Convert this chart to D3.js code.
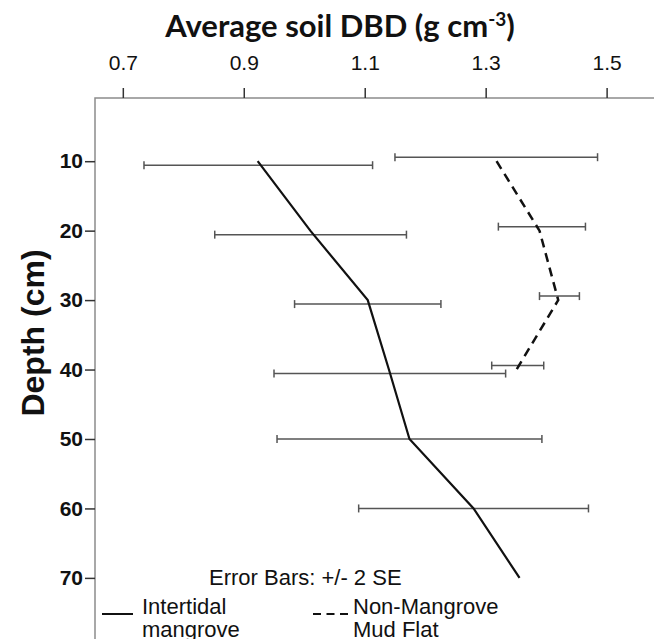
<!DOCTYPE html>
<html>
<head>
<meta charset="utf-8">
<script src="https://cdn.jsdelivr.net/npm/d3@7"></script>
<style>
  body { margin: 0; background: #fff; }
  svg { display: block; }
</style>
</head>
<body>
<div id="chart"></div>
<script>
// depth (cm) and mean soil DBD, with +/- 2 SE limits
const depths = [10, 20, 30, 40, 50, 60, 70];
const mangroveMean = [0.923, 1.01, 1.105, 1.14, 1.174, 1.28, 1.356];
const mangroveLow = [0.735, 0.852, 0.984, 0.950, 0.955, 1.090, null];
const mangroveHigh = [1.113, 1.169, 1.226, 1.333, 1.393, 1.470, null];

const mudDepths = [10, 20, 30, 40];
const mudMean = [1.318, 1.389, 1.42, 1.351];
const mudLow = [1.150, 1.321, 1.389, 1.310];
const mudHigh = [1.485, 1.465, 1.455, 1.396];

const xTicks = [0.7, 0.9, 1.1, 1.3, 1.5];
const yTicks = [10, 20, 30, 40, 50, 60, 70];

const width = 654, height = 639;
const plotLeft = 95, plotTop = 98;

const svg = d3.select("#chart")
    .append("svg")
    .attr("width", width)
    .attr("height", height);

const x = d3.scaleLinear()
    .domain([0.654, 1.58])
    .range([plotLeft, width + 1]);

const y = d3.scaleLinear()
    .domain([0.9, 78.8])
    .range([plotTop, height]);

// plot frame (right and bottom run off the picture)
svg.append("rect")
    .attr("x", plotLeft)
    .attr("y", plotTop)
    .attr("width", width)
    .attr("height", height)
    .attr("fill", "none")
    .attr("stroke", "#8c8c8c")
    .attr("stroke-width", 1.5);

// top axis
const xAxis = svg.append("g")
    .attr("transform", `translate(0,${plotTop})`)
    .call(d3.axisTop(x).tickValues(xTicks).tickSize(10).tickPadding(18).tickFormat(d3.format(".1f")));
xAxis.select(".domain").remove();
xAxis.selectAll("line").attr("stroke", "#333").attr("stroke-width", 1.5);
xAxis.selectAll("text")
    .attr("fill", "#111")
    .style("font-family", "'Liberation Sans', Arial, sans-serif")
    .style("font-size", "21px");

// left axis
const yAxis = svg.append("g")
    .attr("transform", `translate(${plotLeft},0)`)
    .call(d3.axisLeft(y).tickValues(yTicks).tickSize(10).tickPadding(2));
yAxis.select(".domain").remove();
yAxis.selectAll("line").attr("stroke", "#333").attr("stroke-width", 1.5);
yAxis.selectAll("text")
    .attr("fill", "#111")
    .style("font-family", "'Liberation Sans', Arial, sans-serif")
    .style("font-weight", "bold")
    .style("font-size", "21px");

// titles
const title = svg.append("text")
    .attr("x", 340)
    .attr("y", 37)
    .attr("text-anchor", "middle")
    .style("font-family", "Lato, 'Open Sans', sans-serif")
    .style("font-weight", "bold")
    .style("font-size", "31px")
    .attr("fill", "#111");
title.append("tspan").text("Average soil DBD (g cm");
title.append("tspan").attr("dy", -11).style("font-size", "19px").text("-3");
title.append("tspan").attr("dy", 11).text(")");

svg.append("text")
    .attr("transform", "translate(44,333) rotate(-90)")
    .attr("text-anchor", "middle")
    .style("font-family", "'Liberation Sans', Arial, sans-serif")
    .style("font-weight", "bold")
    .style("font-size", "32px")
    .attr("fill", "#111")
    .text("Depth (cm)");

// error bars, dodged where both groups are measured
function errorBars(ds, lo, hi, side) {
  const rows = ds.map((d, i) => ({ d, lo: lo[i], hi: hi[i] }))
      .filter(r => r.lo != null);
  const g = svg.append("g")
      .attr("stroke", "#555")
      .attr("stroke-width", 1.5);
  const off = r => mudDepths.includes(r.d) ? side * 4 : 0;
  g.selectAll(".bar")
      .data(rows)
      .enter()
      .append("line")
      .attr("x1", r => x(r.lo))
      .attr("x2", r => x(r.hi))
      .attr("y1", r => y(r.d) + off(r))
      .attr("y2", r => y(r.d) + off(r));
  ["lo", "hi"].forEach(k => {
    g.selectAll(".cap-" + k)
        .data(rows)
        .enter()
        .append("line")
        .attr("x1", r => x(r[k]))
        .attr("x2", r => x(r[k]))
        .attr("y1", r => y(r.d) + off(r) - 4)
        .attr("y2", r => y(r.d) + off(r) + 4);
  });
}
errorBars(depths, mangroveLow, mangroveHigh, 1);
errorBars(mudDepths, mudLow, mudHigh, -1);

// mean lines
const line = d3.line()
    .x(d => x(d[1]))
    .y(d => y(d[0]));

svg.append("path")
    .datum(depths.map((d, i) => [d, mangroveMean[i]]))
    .attr("fill", "none")
    .attr("stroke", "#111")
    .attr("stroke-width", 2.2)
    .attr("d", line);

svg.append("path")
    .datum(mudDepths.map((d, i) => [d, mudMean[i]]))
    .attr("fill", "none")
    .attr("stroke", "#111")
    .attr("stroke-width", 2.5)
    .attr("stroke-dasharray", "9,6")
    .attr("d", line);

// legend
const legendFont = "'Liberation Sans', Arial, sans-serif";
svg.append("text")
    .attr("x", 209)
    .attr("y", 585)
    .style("font-family", legendFont)
    .style("font-size", "22px")
    .attr("fill", "#111")
    .text("Error Bars: +/- 2 SE");

const legendItems = [
  { x1: 102, x2: 133, tx: 142, dash: null, lines: ["Intertidal", "mangrove"] },
  { x1: 313, x2: 352, tx: 353, dash: "8,5.5", lines: ["Non-Mangrove", "Mud Flat"] }
];
legendItems.forEach(it => {
  svg.append("line")
      .attr("x1", it.x1).attr("x2", it.x2)
      .attr("y1", 614).attr("y2", 614)
      .attr("stroke", "#111")
      .attr("stroke-width", 2)
      .attr("stroke-dasharray", it.dash);
  const t = svg.append("text")
      .attr("x", it.tx)
      .attr("y", 614)
      .style("font-family", legendFont)
      .style("font-size", "22px")
      .attr("fill", "#111");
  it.lines.forEach((s, i) => {
    t.append("tspan").attr("x", it.tx).attr("dy", i ? 23 : 0).text(s);
  });
});
</script>
</body>
</html>
